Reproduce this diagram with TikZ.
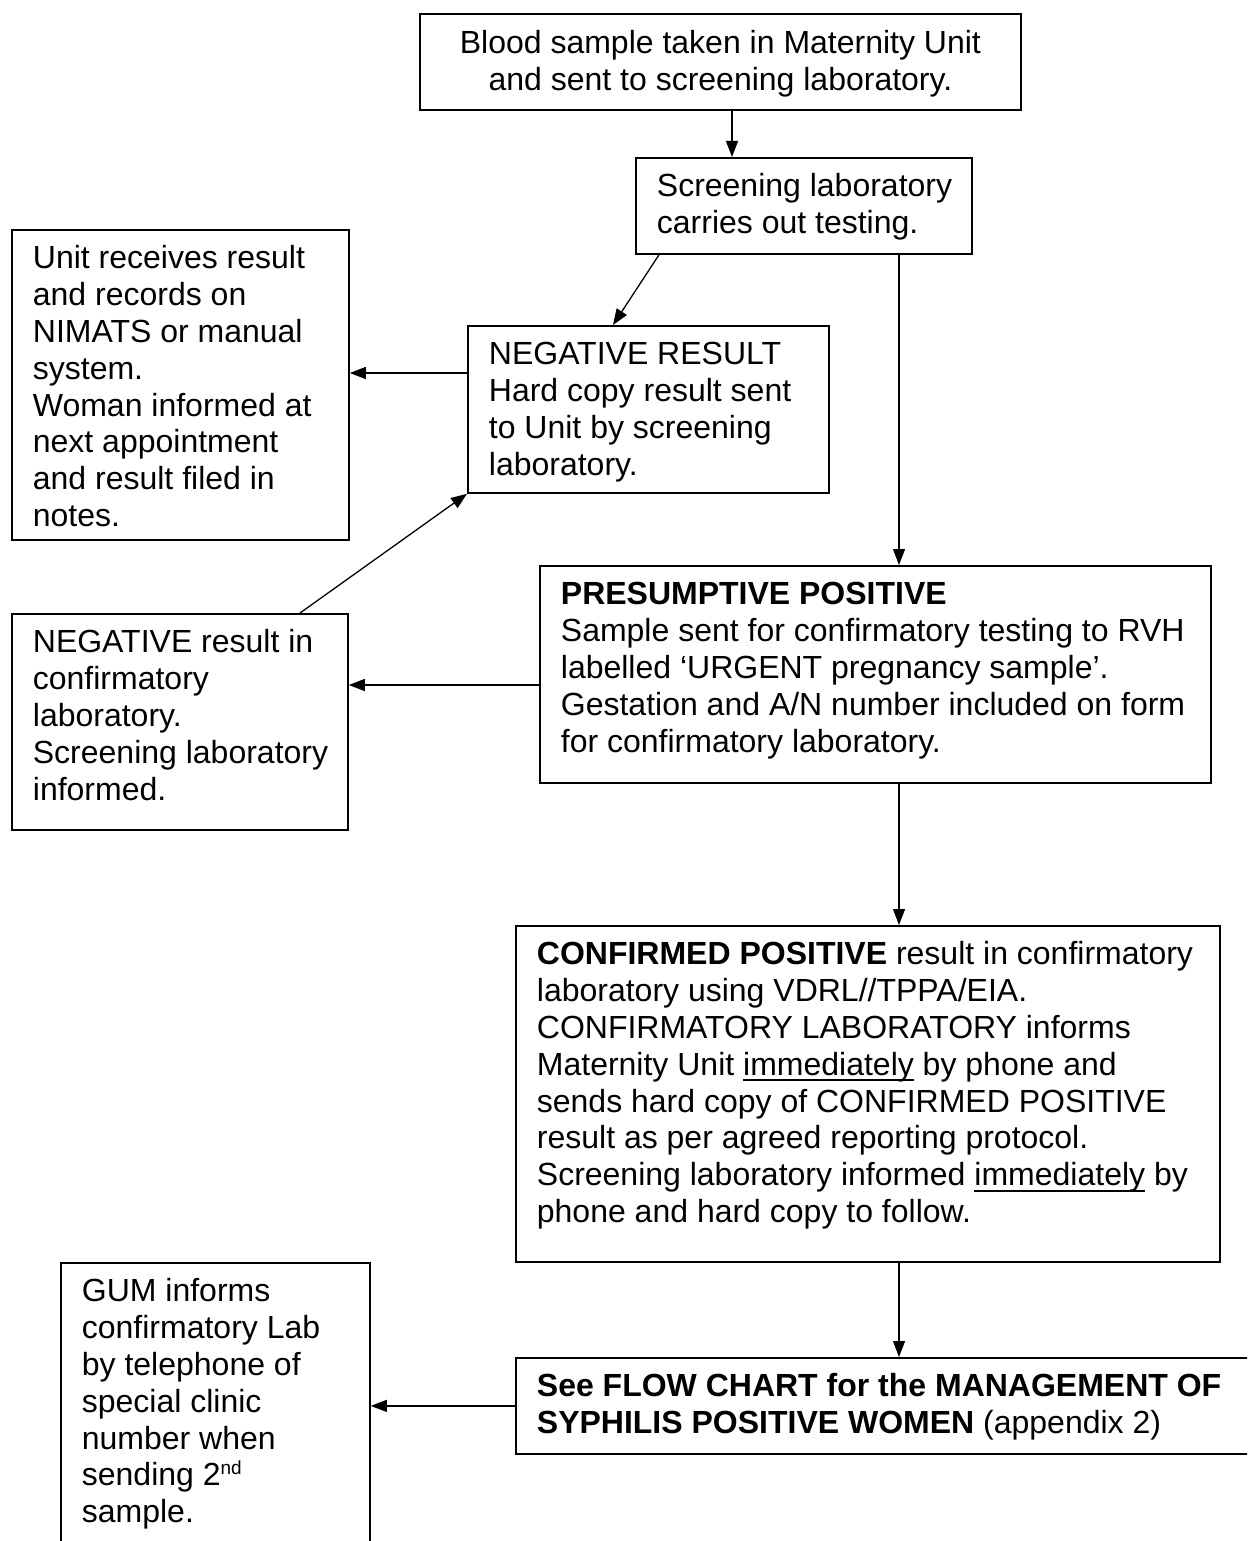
\documentclass[tikz,border=0pt]{standalone}
\usepackage{fontspec}
\setmainfont{Liberation Sans}
\usetikzlibrary{arrows.meta}
\newcommand{\testo}[3]{\parbox[t][#2pt][t]{#1pt}{\raggedright\leftskip=21pt\rule{0pt}{39pt}#3}}
\newcommand{\sotto}[1]{\setbox0\hbox{#1}\rlap{\rule[-6pt]{\wd0}{2pt}}\box0\relax}
\begin{document}
\begin{tikzpicture}[x=1pt, y=-1pt, font=\fontsize{32pt}{36.8pt}\selectfont,
    box/.style={draw, line width=1.8pt, inner sep=0pt, anchor=north west},
    arrow/.style={-{Triangle[length=16pt,width=12pt]}, line width=1.3pt}]
              \useasboundingbox (0,0) rectangle (1247,1541);
              \clip (0,0) rectangle (1247,1541);
              % Nodi
              \node[box] (0) at (419,13) {\parbox[t][96pt][t]{601pt}{\centering\rule{0pt}{40pt}Blood sample taken in Maternity Unit\\and sent to screening laboratory.}};
              \node[box] (1) at (635,157) {\testo{336}{96}{Screening laboratory\\carries out testing.}};
              \node[box] (2) at (11,229) {\testo{337}{310}{Unit receives result\\and records on\\NIMATS or manual\\system.\\Woman informed at\\next appointment\\and result filed in\\notes.}};
              \node[box] (3) at (467,325) {\testo{361}{167}{NEGATIVE RESULT\\Hard copy result sent\\to Unit by screening\\laboratory.}};
              \node[box] (4) at (539,565) {\testo{671}{217}{\textbf{PRESUMPTIVE POSITIVE}\\Sample sent for confirmatory testing to RVH\\labelled ‘URGENT pregnancy sample’.\\Gestation and A/N number included on form\\for confirmatory laboratory.}};
              \node[box] (5) at (11,613) {\testo{336}{216}{NEGATIVE result in\\confirmatory\\laboratory.\\Screening laboratory\\informed.}};
              \node[box] (6) at (515,925) {\testo{704}{336}{\textbf{CONFIRMED POSITIVE} result in confirmatory\\laboratory using VDRL//TPPA/EIA.\\CONFIRMATORY LABORATORY informs\\Maternity Unit \sotto{immediately} by phone and\\sends hard copy of CONFIRMED POSITIVE\\result as per agreed reporting protocol.\\Screening laboratory informed \sotto{immediately} by\\phone and hard copy to follow.}};
              \node[box] (7) at (515,1357) {\testo{745}{96}{\textbf{See FLOW CHART for the MANAGEMENT OF}\\\textbf{SYPHILIS POSITIVE WOMEN} (appendix 2)}};
              \node[box] (8) at (60,1262) {\testo{309}{300}{GUM informs\\confirmatory Lab\\by telephone of\\special clinic\\number when\\sending 2\raisebox{11pt}{\fontsize{19pt}{20pt}\selectfont nd}\\sample.}};

              % Archi
              \coordinate (a) at ([xshift=313pt]0.south west);
              \coordinate (b) at ([xshift=264pt]1.south west);
              \coordinate (c) at ([yshift=-48pt]3.north west);
              \coordinate (d) at ([yshift=-120pt]4.north west);
              \coordinate (e) at ([xshift=360pt]4.south west);
              \coordinate (f) at ([xshift=384pt]6.south west);
              \draw[arrow] (a) -- (a |- 1.north);
              \draw[arrow] ([xshift=24pt]1.south west) -- ([xshift=146pt]3.north west);
              \draw[arrow] (b) -- (b |- 4.north);
              \draw[arrow] (c) -- (c -| 2.east);
              \draw[arrow] ([xshift=289pt]5.north west) -- (3.south west);
              \draw[arrow] (d) -- (d -| 5.east);
              \draw[arrow] (e) -- (e |- 6.north);
              \draw[arrow] (f) -- (f |- 7.north);
              \draw[arrow] (7.west) -- (7.west -| 8.east);
\end{tikzpicture}
\end{document}
